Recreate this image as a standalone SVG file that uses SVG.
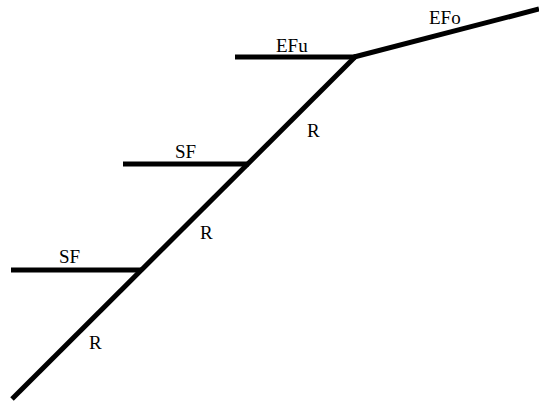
<svg xmlns="http://www.w3.org/2000/svg" width="539" height="401" viewBox="0 0 539 401">
<style>
.ln{stroke:#000;stroke-width:5;fill:none;stroke-linecap:butt}
.t{font-family:"Liberation Serif","DejaVu Serif",serif;font-size:19px;fill:#000}
</style>
<rect width="539" height="401" fill="#fff"/>
<g id="connectors">
<line class="ln" x1="12" y1="399" x2="356" y2="56"/>
<line class="ln" x1="235" y1="57" x2="356" y2="57"/>
<line class="ln" x1="354" y1="57" x2="539" y2="9"/>
<line class="ln" x1="123" y1="164" x2="249" y2="164"/>
<line class="ln" x1="11" y1="270" x2="142" y2="270"/>
</g>
<g id="EFu"><text class="t" x="276" y="52">EFu</text></g>
<g id="EFo"><text class="t" x="429" y="24">EFo</text></g>
<g id="SF1"><text class="t" x="175" y="158">SF</text></g>
<g id="SF2"><text class="t" x="59" y="263">SF</text></g>
<g id="R1"><text class="t" x="307" y="137">R</text></g>
<g id="R2"><text class="t" x="200" y="239">R</text></g>
<g id="R3"><text class="t" x="89" y="349">R</text></g>
</svg>
